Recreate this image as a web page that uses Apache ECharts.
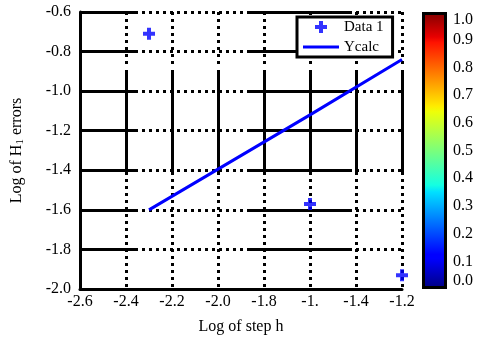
<!DOCTYPE html>
<html lang="en">
<head>
<meta charset="UTF-8">
<title>Log of H1 errors</title>
<script src="https://cdn.jsdelivr.net/npm/echarts@6/dist/echarts.min.js"></script>
<style>
  html, body { margin: 0; padding: 0; background: #fff; }
  #main { width: 478px; height: 345px; }
</style>
</head>
<body>
<div id="main"></div>
<script>
  // data
  var xTickLabels = ['-2.6', '-2.4', '-2.2', '-2.0', '-1.8', '-1.', '-1.4', '-1.2'];
  var data1X = [-2.3, -1.6, -1.2];
  var data1Y = [-0.71, -1.57, -1.93];
  var ycalcX = [-2.3, -1.6, -1.2];
  var ycalcY = [-1.60, -1.12, -0.84];
  var colorbarValue = [1];
  var jetStops = [
    [0, '#00007f'], [0.11, '#0000ff'], [0.125, '#0000ff'], [0.35, '#00e0ff'],
    [0.375, '#14ffe2'], [0.5, '#7bff7b'], [0.64, '#eeff08'], [0.66, '#ffec00'],
    [0.89, '#ff1300'], [0.91, '#e80000'], [1, '#800000']
  ];

  var serif = 'Liberation Serif';
  var plusPath = 'path://M4,0H8V4H12V8H8V12H4V8H0V4H4Z';
  var linePath = 'path://M0,0H36V3H0Z';

  // odd grid look: dotted runs with solid blocks
  function dots(len) {
    var a = [];
    for (var i = 0; i < len; i += 7) a.push(3, 4);
    return a;
  }
  var hDash = [58, 4].concat(dots(105), [105, 4], dots(80));
  var vDots = dots(56);
  vDots[vDots.length - 1] = 6;
  var vDash = vDots.concat([105, 4], dots(130));

  function pairs(xs, ys) {
    return xs.map(function (x, i) { return [x, ys[i]]; });
  }

  var tickFont = { fontFamily: serif, fontSize: 16, color: '#000' };

  var myChart = echarts.init(document.getElementById('main'));
  var option = {
    animation: false,
    textStyle: { fontFamily: serif, color: '#000' },
    grid: [
      { left: 80, top: 12, width: 322, height: 277 },
      { left: 422, top: 12, width: 25, height: 277 }
    ],
    legend: {
      data: [{ name: 'Data 1', icon: plusPath }, { name: 'Ycalc', icon: linePath }],
      orient: 'vertical',
      left: 297,
      top: 17,
      padding: [2, 9, 2, 6],
      itemWidth: 36,
      itemHeight: 12,
      itemGap: 4,
      backgroundColor: '#fff',
      borderColor: '#000',
      borderWidth: 3,
      borderRadius: 0,
      textStyle: { fontFamily: serif, fontSize: 15, color: '#000', lineHeight: 16 }
    },
    xAxis: [
      {
        type: 'value',
        gridIndex: 0,
        min: -2.6,
        max: -1.2,
        interval: 0.2,
        name: 'Log of step h',
        nameLocation: 'middle',
        nameGap: 30,
        nameTextStyle: tickFont,
        axisLine: { onZero: false, lineStyle: { color: '#000', width: 3 } },
        axisTick: { show: false },
        axisLabel: {
          margin: 5,
          fontFamily: serif,
          fontSize: 16,
          color: '#000',
          formatter: function (v) {
            return xTickLabels[Math.round((v + 2.6) / 0.2)];
          }
        },
        splitLine: { show: true, lineStyle: { color: '#000', width: 3, type: vDash } }
      },
      {
        type: 'category',
        gridIndex: 1,
        data: ['cb'],
        show: false
      }
    ],
    yAxis: [
      {
        type: 'value',
        gridIndex: 0,
        min: -2.0,
        max: -0.6,
        interval: 0.2,
        name: '{a|Log of H}{s|1}{a| errors}',
        nameLocation: 'middle',
        nameGap: 54,
        nameTextStyle: {
          fontFamily: serif,
          fontSize: 16,
          color: '#000',
          rich: {
            a: { fontFamily: serif, fontSize: 16, color: '#000' },
            s: { fontFamily: serif, fontSize: 11, color: '#000', verticalAlign: 'bottom', padding: [8, 0, 0, 0] }
          }
        },
        axisLine: { onZero: false, lineStyle: { color: '#000', width: 3 } },
        axisTick: { show: false },
        axisLabel: {
          margin: 9,
          fontFamily: serif,
          fontSize: 16,
          color: '#000',
          formatter: function (v) { return v.toFixed(1); }
        },
        splitLine: { show: true, lineStyle: { color: '#000', width: 3, type: hDash } }
      },
      {
        type: 'value',
        gridIndex: 1,
        position: 'right',
        min: 0,
        max: 1,
        interval: 0.1,
        z: 5,
        axisLine: { show: false },
        axisTick: { inside: true, length: 4, lineStyle: { color: '#000', width: 2 } },
        splitLine: { show: false },
        axisLabel: {
          margin: 6,
          fontFamily: serif,
          fontSize: 16,
          color: '#000',
          verticalAlignMinLabel: 'bottom',
          verticalAlignMaxLabel: 'top',
          formatter: function (v) { return v.toFixed(1); }
        }
      },
      {
        type: 'value',
        gridIndex: 1,
        position: 'left',
        min: 0,
        max: 1,
        interval: 0.1,
        z: 5,
        axisLine: { show: false },
        axisTick: { inside: true, length: 4, lineStyle: { color: '#000', width: 2 } },
        splitLine: { show: false },
        axisLabel: { show: false }
      }
    ],
    series: [
      {
        name: 'Data 1',
        type: 'scatter',
        xAxisIndex: 0,
        yAxisIndex: 0,
        symbol: plusPath,
        symbolSize: 12,
        itemStyle: { color: '#0000ff' },
        data: pairs(data1X, data1Y),
        z: 4
      },
      {
        name: 'Ycalc',
        type: 'line',
        xAxisIndex: 0,
        yAxisIndex: 0,
        symbol: 'none',
        lineStyle: { color: '#0000ff', width: 3 },
        itemStyle: { color: '#0000ff' },
        data: pairs(ycalcX, ycalcY),
        z: 3
      },
      {
        name: 'colorbar',
        type: 'bar',
        xAxisIndex: 1,
        yAxisIndex: 1,
        barWidth: '100%',
        silent: true,
        itemStyle: {
          color: new echarts.graphic.LinearGradient(0, 1, 0, 0, jetStops.map(function (s) {
            return { offset: s[0], color: s[1] };
          })),
          borderColor: '#000',
          borderWidth: 3
        },
        data: colorbarValue
      }
    ]
  };
  myChart.setOption(option);
</script>
</body>
</html>
